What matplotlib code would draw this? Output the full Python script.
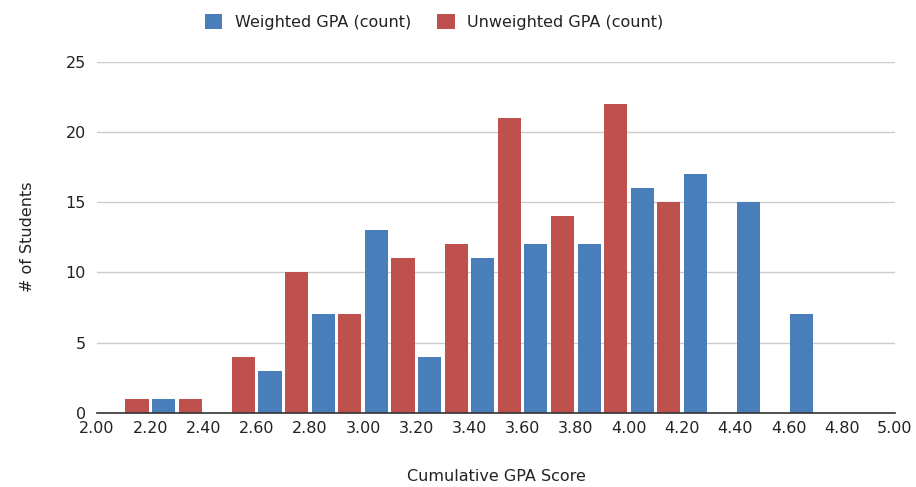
import numpy as np
import matplotlib.pyplot as plt

# histogram buckets (left edge of each 0.1-wide bucket) and counts
weighted_bins = [2.2, 2.6, 2.8, 3.0, 3.2, 3.4, 3.6, 3.8, 4.0, 4.2, 4.4, 4.6]
weighted_counts = [1, 3, 7, 13, 4, 11, 12, 12, 16, 17, 15, 7]
unweighted_bins = [2.1, 2.3, 2.5, 2.7, 2.9, 3.1, 3.3, 3.5, 3.7, 3.9, 4.1]
unweighted_counts = [1, 1, 4, 10, 7, 11, 12, 21, 14, 22, 15]

x_ticks = [2.0, 2.2, 2.4, 2.6, 2.8, 3.0, 3.2, 3.4, 3.6, 3.8, 4.0, 4.2, 4.4, 4.6, 4.8, 5.0]
y_ticks = [0, 5, 10, 15, 20, 25]

BLUE = "#4a7ebb"
RED = "#be504d"
BIN_W = 0.1


def main():
    plt.rcParams["font.family"] = ["DejaVu Sans"]
    fig = plt.figure(figsize=(9.16, 4.87), dpi=100)
    ax = fig.add_axes([0.106, 0.1526, 0.871, 0.7205])

    ax.bar(np.array(weighted_bins) + BIN_W / 2, weighted_counts, width=0.087,
           color=BLUE, label="Weighted GPA (count)", zorder=3)
    ax.bar(np.array(unweighted_bins) + BIN_W / 2, unweighted_counts, width=0.087,
           color=RED, label="Unweighted GPA (count)", zorder=3)

    ax.set_xlim(2.0, 5.0)
    ax.set_ylim(0, 25)
    ax.set_xticks(x_ticks)
    ax.set_xticklabels([f"{t:.2f}" for t in x_ticks])
    ax.set_yticks(y_ticks)
    ax.tick_params(axis="both", length=0, labelsize=11.5, colors="#222222")
    ax.tick_params(axis="x", pad=6)
    ax.tick_params(axis="y", pad=8)
    ax.grid(axis="y", color="#cccccc", linewidth=1, zorder=0)

    for s in ["top", "right", "left"]:
        ax.spines[s].set_visible(False)
    ax.spines["bottom"].set_color("#333333")
    ax.spines["bottom"].set_linewidth(1.2)
    ax.spines["bottom"].set_zorder(4)

    ax.set_xlabel("Cumulative GPA Score", fontsize=11.5, color="#222222", labelpad=24)
    ax.set_ylabel("# of Students", fontsize=11.5, color="#222222", labelpad=22)

    fig.legend(loc="center", bbox_to_anchor=(0.474, 0.955), ncol=2, frameon=False,
               fontsize=11.5, handlelength=1.1, handleheight=1.1, columnspacing=1.6,
               handletextpad=0.8, labelcolor="#222222")

    fig.savefig("out.png", dpi=100)


if __name__ == "__main__":
    main()
